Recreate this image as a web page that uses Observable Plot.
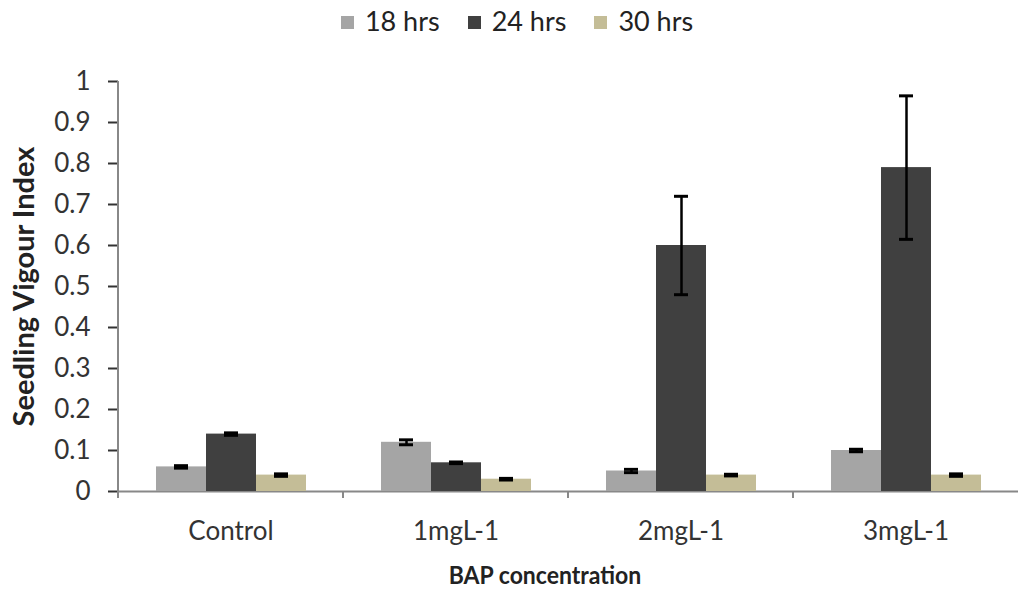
<!DOCTYPE html>
<html>
<head>
<meta charset="utf-8">
<script src="https://cdn.jsdelivr.net/npm/d3@7"></script>
<script src="https://cdn.jsdelivr.net/npm/@observablehq/plot@0.6"></script>
<style>
  html, body { margin: 0; padding: 0; background: #fff; }
  #wrap { position: relative; width: 1018px; height: 590px; font-family: Lato, "Open Sans", sans-serif; overflow: hidden; }
  #legend { position: absolute; top: 0px; left: 8px; width: 1018px; height: 42px; display: flex; justify-content: center; align-items: center; }
  #legend .item { display: flex; align-items: center; font-size: 27px; line-height: 32px; color: #222; margin: 0 14px; }
  #legend .sw { width: 13px; height: 13px; margin-right: 11px; margin-top: 2px; }
  #chart { position: absolute; top: 45px; left: 0; }
  #xtitle { position: absolute; top: 560px; left: 545px; transform: translateX(-50%) scaleY(1.1); font-weight: bold; font-size: 23px; color: #222; white-space: nowrap; }
</style>
</head>
<body>
<div id="wrap">
  <div id="legend"></div>
  <div id="chart"></div>
  <div id="xtitle"></div>
</div>
<script>
const categories = ["Control", "1mgL-1", "2mgL-1", "3mgL-1"];
const series = ["18 hrs", "24 hrs", "30 hrs"];
const colors = ["#a5a5a5", "#404040", "#c4bd97"];
const values18 = [0.06, 0.12, 0.05, 0.10];
const values24 = [0.14, 0.07, 0.60, 0.79];
const values30 = [0.04, 0.03, 0.04, 0.04];
const errors18 = [0.003, 0.006, 0.004, 0.003];
const errors24 = [0.003, 0.002, 0.12, 0.175];
const errors30 = [0.003, 0.002, 0.002, 0.003];
const yTicks = [0, 0.1, 0.2, 0.3, 0.4, 0.5, 0.6, 0.7, 0.8, 0.9, 1];
const yLabel = "Seedling Vigour Index";
const xLabel = "BAP concentration";

const allValues = [values18, values24, values30];
const allErrors = [errors18, errors24, errors30];
const rows = [];
categories.forEach((c, ci) => {
  series.forEach((s, si) => {
    rows.push({category: c, series: s, value: allValues[si][ci], err: allErrors[si][ci]});
  });
});

// Legend
const legend = document.getElementById("legend");
series.forEach((s, i) => {
  const item = document.createElement("div");
  item.className = "item";
  const sw = document.createElement("span");
  sw.className = "sw";
  sw.style.background = colors[i];
  item.appendChild(sw);
  item.appendChild(document.createTextNode(s));
  legend.appendChild(item);
});
document.getElementById("xtitle").textContent = xLabel;

const W = 1018, H = 505;
const plot = Plot.plot({
  width: W,
  height: H,
  marginLeft: 118,
  marginRight: 0,
  marginTop: 36,
  marginBottom: 59,
  style: {fontFamily: "Lato, 'Open Sans', sans-serif", fontSize: "26px", color: "#333", background: "#fff", overflow: "visible"},
  fx: {domain: categories, padding: 0, label: null, tickSize: 0, tickPadding: 30, axis: "bottom"},
  x: {domain: series, paddingInner: 0, paddingOuter: 0.75, axis: null},
  y: {domain: [0, 1], ticks: yTicks, tickFormat: d3.format("~g"), tickSize: 10, tickPadding: 18,
      label: yLabel, labelAnchor: "center", labelArrow: "none", labelOffset: 105},
  color: {domain: series, range: colors},
  marks: [
    Plot.ruleY([0], {stroke: "#888", strokeWidth: 2}),
    Plot.barY(rows, {fx: "category", x: "series", y: "value", fill: "series"}),
    Plot.ruleX(rows, {fx: "category", x: "series", y1: d => d.value - d.err, y2: d => d.value + d.err, stroke: "#000", strokeWidth: 2.5}),
    Plot.tickY(rows, {fx: "category", x: "series", y: d => d.value - d.err, stroke: "#000", strokeWidth: 3, inset: 18}),
    Plot.tickY(rows, {fx: "category", x: "series", y: d => d.value + d.err, stroke: "#000", strokeWidth: 3, inset: 18})
  ]
});
document.getElementById("chart").appendChild(plot);

// axis lines & category boundary ticks derived from the plot's scales
const svg = d3.select(plot.tagName.toLowerCase() === "svg" ? plot : plot.querySelector("svg"));
const fx = plot.scale("fx");
const y = plot.scale("y");
const y0 = y.apply(0), y1 = y.apply(1);
const x0 = fx.apply(categories[0]);
const g = svg.append("g").attr("stroke", "#888").attr("stroke-width", 2);
g.append("line").attr("x1", x0).attr("x2", x0).attr("y1", y1).attr("y2", y0 + 7);
categories.forEach(c => {
  const xx = fx.apply(c);
  g.append("line").attr("x1", xx).attr("x2", xx).attr("y1", y0).attr("y2", y0 + 7);
});
// style y axis ticks/labels
svg.selectAll("[aria-label='y-axis tick']").attr("stroke", "#888").attr("stroke-width", 2);
svg.selectAll("[aria-label='y-axis label']").attr("font-weight", "bold").attr("font-size", "29px").attr("fill", "#222");
</script>
</body>
</html>
